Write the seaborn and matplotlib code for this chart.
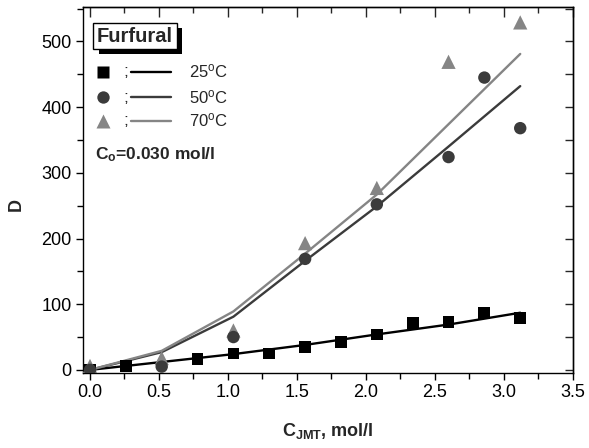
import numpy as np
import pandas as pd
import matplotlib
matplotlib.use('Agg')
import matplotlib.pyplot as plt
import matplotlib.patheffects as pe
from matplotlib.ticker import MultipleLocator
import seaborn as sns

# ---- data ----
x_25 = [0.0, 0.26, 0.78, 1.04, 1.30, 1.56, 1.82, 2.08, 2.34, 2.60, 2.86, 3.12]
D_25 = [0, 6, 17, 25, 25, 35, 42, 54, 71, 73, 87, 79]

x_50 = [0.0, 0.52, 1.04, 1.56, 2.08, 2.60, 2.86, 3.12]
D_50 = [0, 5, 50, 169, 252, 324, 445, 368]

x_70 = [0.0, 0.52, 1.04, 1.56, 2.08, 2.60, 3.12]
D_70 = [6, 18, 60, 193, 277, 469, 529]

x_fit = [0.0, 0.52, 1.04, 1.56, 2.08, 2.60, 3.12]
fit_25 = [0, 12, 24, 38, 54, 69, 87]
fit_50 = [0, 27, 81, 166, 249, 340, 432]
fit_70 = [0, 29, 89, 177, 267, 374, 481]

temps = ["25", "50", "70"]

# ---- style ----
sns.set_theme(style='ticks')
plt.rcParams['font.family'] = ['Liberation Sans', 'DejaVu Sans']
plt.rcParams['mathtext.fontset'] = 'custom'
plt.rcParams['mathtext.rm'] = 'Liberation Sans'
plt.rcParams['mathtext.it'] = 'Liberation Sans:italic'
plt.rcParams['mathtext.bf'] = 'Liberation Sans:bold'

c25, c50, c70 = '#000000', '#3b3b3b', '#858585'

fig = plt.figure(figsize=(5.89, 4.48), dpi=100)
ax = fig.add_axes([0.1404, 0.1685, 0.8318, 0.8152])

# fit lines
sns.lineplot(x=x_fit, y=fit_25, color=c25, lw=1.7, sort=False, estimator=None, ax=ax)
sns.lineplot(x=x_fit, y=fit_50, color=c50, lw=1.7, sort=False, estimator=None, ax=ax)
sns.lineplot(x=x_fit, y=fit_70, color=c70, lw=1.7, sort=False, estimator=None, ax=ax)

# measured points
sns.scatterplot(x=x_25, y=D_25, marker='s', s=72, color=c25, edgecolor='none', ax=ax, zorder=3)
sns.scatterplot(x=x_70, y=D_70, marker='^', s=105, color=c70, edgecolor='none', ax=ax, zorder=4)
sns.scatterplot(x=x_50, y=D_50, marker='o', s=80, color=c50, edgecolor='none', ax=ax, zorder=5)

ax.set_xlim(-0.053, 3.5)
ax.set_ylim(-4, 552)

ax.xaxis.set_major_locator(MultipleLocator(0.5))
ax.xaxis.set_minor_locator(MultipleLocator(0.25))
ax.yaxis.set_major_locator(MultipleLocator(100))
ax.yaxis.set_minor_locator(MultipleLocator(50))
ax.tick_params(which='major', direction='out', length=5, width=1, labelsize=13,
               colors='black', pad=3)
ax.tick_params(which='minor', direction='out', length=4, width=1, colors='black')
for s in ax.spines.values():
    s.set_linewidth(1.0)
    s.set_color('black')

secx = ax.secondary_xaxis('top')
secx.xaxis.set_major_locator(MultipleLocator(0.5))
secx.xaxis.set_minor_locator(MultipleLocator(0.25))
secx.tick_params(which='major', direction='in', length=7, width=1, labeltop=False)
secx.tick_params(which='minor', direction='in', length=4, width=1)
secx.spines['top'].set_linewidth(1.0)

secy = ax.secondary_yaxis('right')
secy.yaxis.set_major_locator(MultipleLocator(100))
secy.yaxis.set_minor_locator(MultipleLocator(50))
secy.tick_params(which='major', direction='in', length=6, width=1, labelright=False)
secy.tick_params(which='minor', direction='in', length=6, width=1)
secy.spines['right'].set_linewidth(1.0)

ax.set_xlabel(r'C$_{\mathbf{JMT}}$, mol/l', fontweight='bold', fontsize=13, labelpad=15)
ax.set_ylabel('D', fontweight='bold', fontsize=13)
ax.yaxis.set_label_coords(-0.119, 0.46)

# ---- legend-like annotation ----
t = ax.text(0.0292, 0.9214, 'Furfural', transform=ax.transAxes, fontsize=14.5,
            fontweight='bold', ha='left', va='center',
            bbox=dict(boxstyle='square,pad=0.18', fc='white', ec='black', lw=1))
t.get_bbox_patch().set_path_effects([
    pe.SimplePatchShadow(offset=(4, -3.5), shadow_rgbFace='black', alpha=1.0),
    pe.Normal()])

leg_y = [0.8237, 0.7535, 0.6895]
leg_m = ['s', 'o', '^']
leg_ms = [8.5, 8.9, 10.2]
leg_c = [c25, c50, c70]
for yy, m, ms, c, tt in zip(leg_y, leg_m, leg_ms, leg_c, temps):
    ax.plot([0.042], [yy], marker=m, ms=ms, color=c, mec='none', ls='none',
            transform=ax.transAxes)
    ax.text(0.083, yy, ';', transform=ax.transAxes, fontsize=12.5,
            ha='left', va='center')
    ax.plot([0.098, 0.1796], [yy, yy], color=c, lw=1.7, transform=ax.transAxes)
    ax.text(0.2176, yy, tt + r'$^{\mathrm{o}}$C', transform=ax.transAxes,
            fontsize=12, ha='left', va='center')

ax.text(0.025, 0.583, r'C$_{\mathbf{o}}$=0.030 mol/l', transform=ax.transAxes,
        fontsize=12.5, fontweight='bold', ha='left', va='baseline')

fig.savefig('out.png', dpi=100)
